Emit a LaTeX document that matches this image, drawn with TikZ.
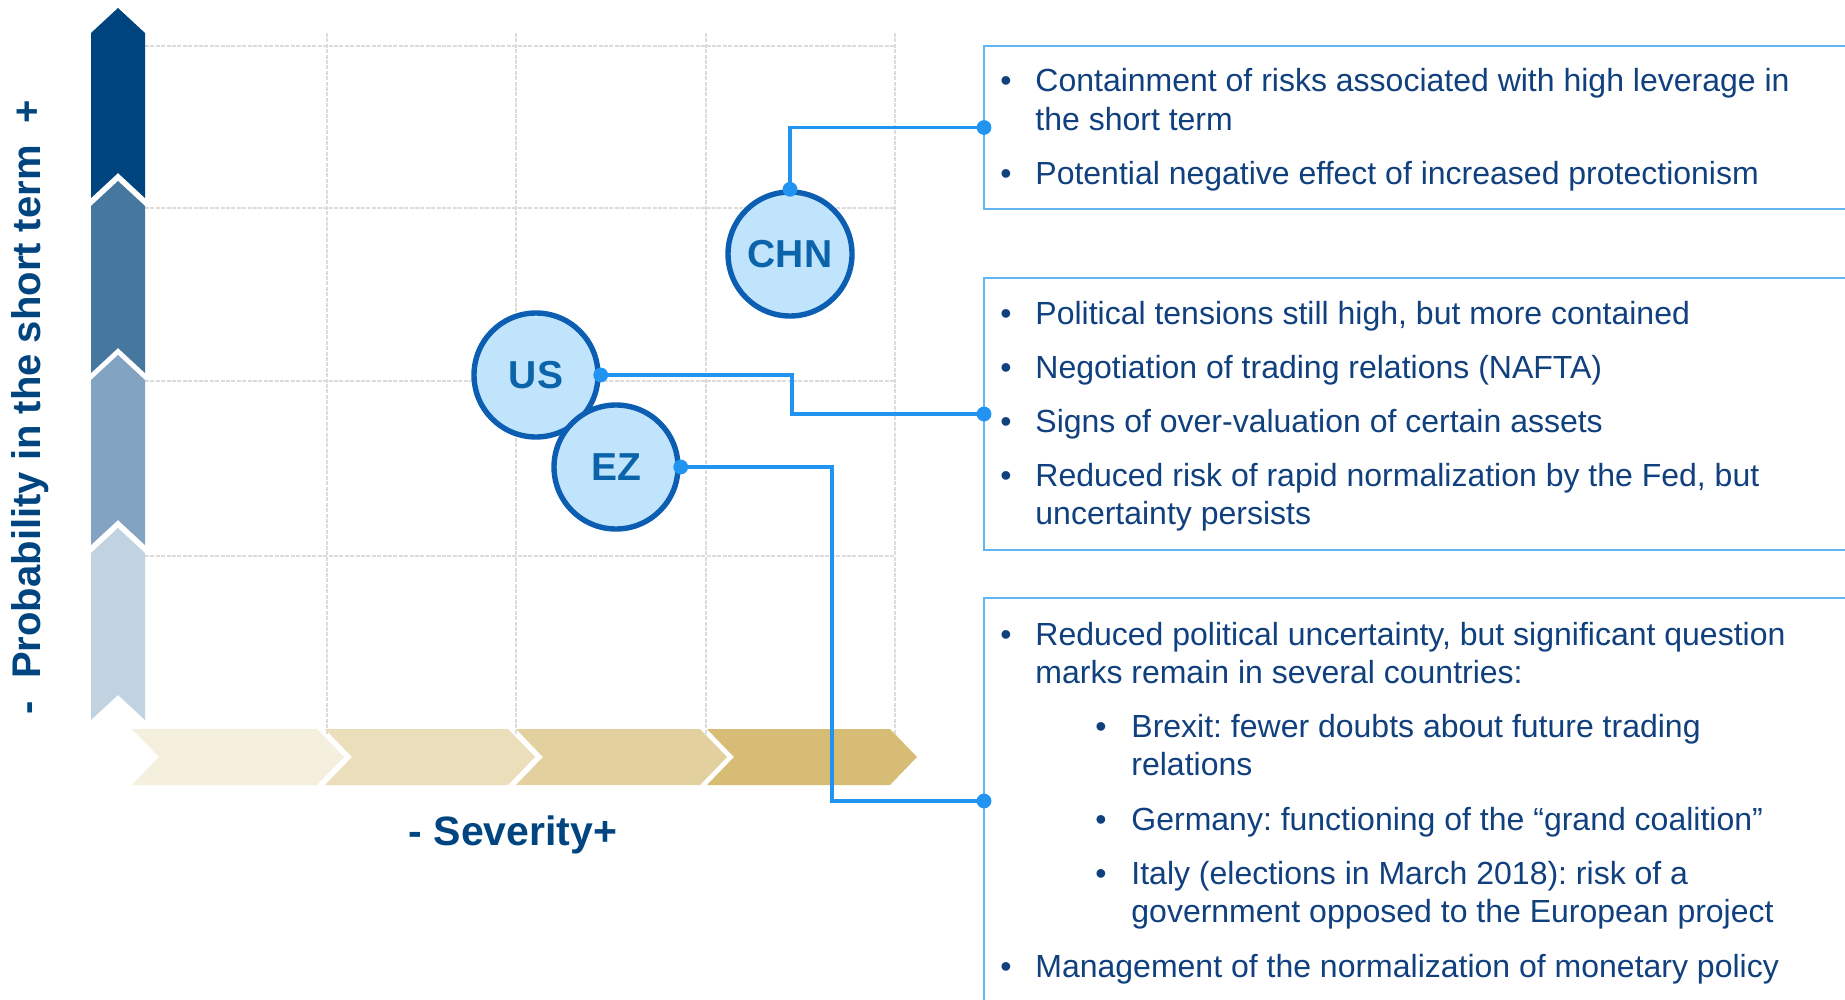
\documentclass[tikz,border=0pt]{standalone}
\usepackage{fontspec}
\setmainfont{Liberation Sans}
\frenchspacing
\definecolor{navy}{HTML}{00457F}
\definecolor{txt}{HTML}{10407E}
\definecolor{v1}{HTML}{00447F}
\definecolor{v2}{HTML}{46779F}
\definecolor{v3}{HTML}{82A3C2}
\definecolor{v4}{HTML}{C1D2E1}
\definecolor{h1}{HTML}{F5EFDE}
\definecolor{h2}{HTML}{EADEBB}
\definecolor{h3}{HTML}{E3D09F}
\definecolor{h4}{HTML}{D7BC75}
\definecolor{circfill}{HTML}{BFE4FC}
\definecolor{circline}{HTML}{0B5EB2}
\definecolor{circtext}{HTML}{0B63AA}
\definecolor{conn}{HTML}{2194F2}
\definecolor{boxline}{HTML}{62B5F0}
\definecolor{gridc}{HTML}{DCDCDC}
\tikzset{
 country/.style={circle, draw=circline, line width=2.7pt, fill=circfill, minimum size=62pt, inner sep=0pt, font=\fontsize{19.5pt}{22pt}\selectfont\bfseries, text=circtext},
 infobox/.style={draw=boxline, line width=1pt, rectangle, inner sep=0pt, outer sep=0pt, anchor=north west, minimum width=433pt},
 connector/.style={draw=conn, line width=1.8pt},
 linetext/.style={anchor=base west, inner sep=0pt, text=txt, font=\fontsize{16pt}{19pt}\selectfont},
 bul/.style={anchor=base, inner sep=0pt, text=txt, font=\fontsize{16pt}{19pt}\selectfont},
 gridline/.style={draw=gridc, line width=0.6pt, dash pattern=on 2pt off 0.7pt},
 axislabel/.style={text=navy, font=\fontsize{20.5pt}{24pt}\selectfont\bfseries, inner sep=0pt},
}
\begin{document}
\begin{tikzpicture}[x=0.5pt, y=-0.5pt]
\useasboundingbox (0,0) rectangle (1845,1000);
\clip (0,0) rectangle (1845,1000);
\fill[white] (0,0) rectangle (1845,1000);

% grid
\foreach \yy in {46,208,381,556} \draw[gridline] (145,\yy) -- (894,\yy);
\foreach \xx in {327,516,706,895} \draw[gridline] (\xx,33) -- (\xx,735);

% vertical chevron arrow
\foreach \yt/\yb/\c in {33/198/v1, 206/373/v2, 380/545/v3, 553/720/v4}
  \fill[\c] (91,\yb) -- (91,\yt) -- (118,\yt-25) -- (145,\yt) -- (145,\yb) -- (118,\yb-25) -- cycle;

% horizontal chevron arrow
\foreach \L/\R/\c in {132/317/h1, 325/508/h2, 516/700/h3, 707/890/h4}
  \fill[\c] (\L,729) -- (\R,729) -- (\R+27,757) -- (\R,785) -- (\L,785) -- (\L+27,757) -- cycle;

% axis labels
\node[axislabel, rotate=90, font=\fontsize{20pt}{24pt}\selectfont\bfseries] (ylab) at (30,407) {-\ \ Probability in the short term\ \ +};
\node[axislabel] (xlab) at (513,835) {- Severity+};

% boxes
\node[infobox, minimum height=81.5pt] (box1) at (984,46) {};
\node[infobox, minimum height=136pt] (box2) at (984,278) {};
\node[infobox, minimum height=203pt] (box3) at (984,598) {};

% countries
\node[country] (CHN) at (790,254) {CHN};
\node[country] (US) at (536,375) {US};
\node[country] (EZ) at (616,467) {EZ};

% connectors
\coordinate (usb) at (792,0);
\coordinate (ezb) at (832,0);
\draw[connector] (CHN.north) |- (box1.west);
\draw[connector] (US.east) -- (US.east -| usb) |- (box2.west);
\draw[connector] (EZ.east) -- (EZ.east -| ezb) |- (box3.west);
\foreach \p in {CHN.north, box1.west, US.east, box2.west, EZ.east, box3.west}
  \fill[conn] (\p) circle (3.7pt);

% box 1 text
\node[bul] (b11) at (1006,92) {•};
\node[linetext] (t11) at (1035,92) {Containment of risks associated with high leverage in};
\node[linetext] (t12) at (1035,131) {the short term};
\node[bul] (b12) at (1006,185) {•};
\node[linetext] (t13) at (1035,185) {Potential negative effect of increased protectionism};

% box 2 text
\node[bul] (b21) at (1006,324) {•};
\node[linetext] (t21) at (1035,324) {Political tensions still high, but more contained};
\node[bul] (b22) at (1006,378) {•};
\node[linetext] (t22) at (1035,378) {Negotiation of trading relations (NAFTA)};
\node[bul] (b23) at (1006,432) {•};
\node[linetext] (t23) at (1035,432) {Signs of over-valuation of certain assets};
\node[bul] (b24) at (1006,486) {•};
\node[linetext] (t24) at (1035,486) {Reduced risk of rapid normalization by the Fed, but};
\node[linetext] (t25) at (1035,524) {uncertainty persists};

% box 3 text
\node[bul] (b31) at (1006,645) {•};
\node[linetext] (t31) at (1035,645) {Reduced political uncertainty, but significant question};
\node[linetext] (t32) at (1035,683) {marks remain in several countries:};
\node[bul] (b32) at (1101,737) {•};
\node[linetext] (t33) at (1131,737) {Brexit: fewer doubts about future trading};
\node[linetext] (t34) at (1131,775) {relations};
\node[bul] (b33) at (1101,830) {•};
\node[linetext] (t35) at (1131,830) {Germany: functioning of the “grand coalition”};
\node[bul] (b34) at (1101,884) {•};
\node[linetext] (t36) at (1131,884) {Italy (elections in March 2018): risk of a};
\node[linetext] (t37) at (1131,922) {government opposed to the European project};
\node[bul] (b35) at (1006,977) {•};
\node[linetext] (t38) at (1035,977) {Management of the normalization of monetary policy};
\end{tikzpicture}
\end{document}
